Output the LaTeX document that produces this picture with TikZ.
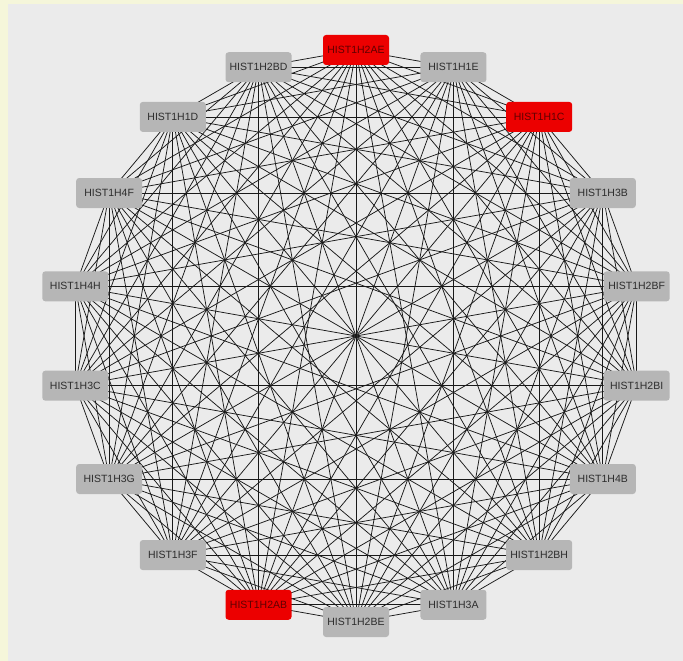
\documentclass[tikz,border=0pt]{standalone}
\usepackage{fontspec}
\setmainfont{Liberation Sans}
\definecolor{strip}{RGB}{245,246,218}
\definecolor{panel}{RGB}{235,235,235}
\definecolor{nodegray}{RGB}{182,182,182}
\definecolor{nodered}{RGB}{236,0,0}
\definecolor{labelgray}{RGB}{45,45,45}
\definecolor{labelred}{RGB}{95,0,0}
\definecolor{edgecol}{RGB}{25,25,25}
\pgfdeclarelayer{bglayer}
\pgfdeclarelayer{edgelayer}
\pgfsetlayers{bglayer,edgelayer,main}
\tikzset{
  gene/.style={rectangle, rounded corners=3pt, minimum width=66pt, minimum height=30pt,
    inner sep=0pt, fill=nodegray, text=labelgray, font=\fontsize{10.5}{12}\selectfont},
  hit/.style={gene, fill=nodered, text=labelred},
  link/.style={draw=edgecol, line width=0.75pt}
}
\begin{document}
\begin{tikzpicture}[x=1pt,y=-1pt]
\useasboundingbox (0,0) rectangle (683,661);
\begin{pgfonlayer}{bglayer}
  \fill[strip] (0,0) rectangle (683,661);
  \fill[panel] (8,4) rectangle (683,661);
\end{pgfonlayer}
\foreach \name/\st [count=\i from 0] in {HIST1H2AE/hit, HIST1H1E/gene, HIST1H1C/hit, HIST1H3B/gene,
  HIST1H2BF/gene, HIST1H2BI/gene, HIST1H4B/gene, HIST1H2BH/gene, HIST1H3A/gene,
  HIST1H2BE/gene, HIST1H2AB/hit, HIST1H3F/gene, HIST1H3G/gene, HIST1H3C/gene,
  HIST1H4H/gene, HIST1H4F/gene, HIST1H1D/gene, HIST1H2BD/gene}{
  \pgfmathsetmacro{\ang}{90-20*\i}
  \node[\st] (n\i) at ({356+285*cos(\ang)},{336-286*sin(\ang)}) {\name};
}
\begin{pgfonlayer}{edgelayer}
\foreach \i in {0,...,16}{
  \pgfmathtruncatemacro{\s}{\i+1}
  \foreach \j in {\s,...,17}{
    \draw[link] (n\i.center) -- (n\j.center);
  }
}
\end{pgfonlayer}
\end{tikzpicture}
\end{document}
